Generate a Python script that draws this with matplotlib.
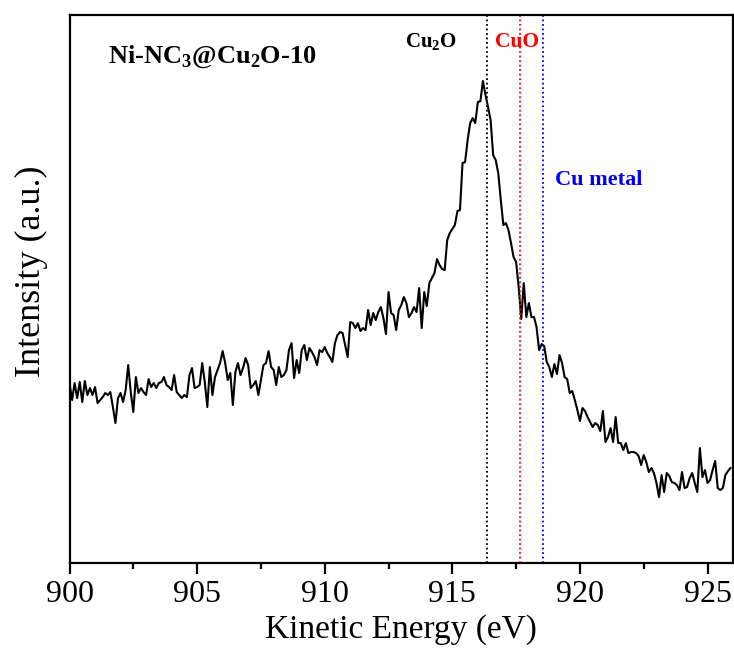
import numpy as np
import matplotlib
matplotlib.use("Agg")
import matplotlib.pyplot as plt
from matplotlib.ticker import MultipleLocator

plt.rcParams["font.family"] = ["Liberation Serif", "DejaVu Serif"]
plt.rcParams["mathtext.fontset"] = "custom"
plt.rcParams["mathtext.rm"] = "Liberation Serif"
plt.rcParams["mathtext.bf"] = "Liberation Serif:bold"

# Cu LMM Auger spectrum (arbitrary units, 0.1 eV step)
E_START = 900.0
E_STEP = 0.1
intensity = [
    180, 163, 180, 165, 181, 161, 182, 168, 175, 168, 176, 160, 163, 166, 170,
    168, 171, 156, 140, 165, 170, 161, 173, 198, 171, 151, 186, 170, 175, 171,
    168, 184, 176, 180, 175, 180, 181, 186, 178, 176, 173, 188, 171,
    168, 165, 168, 166, 188, 195, 175, 176, 178, 200, 181, 156, 196, 168, 186,
    193, 200, 212, 200, 183, 190, 158, 191, 200, 188, 195, 205, 198, 175, 178,
    182, 168, 183, 198, 200, 212, 196, 193, 178, 196, 186, 188,
    193, 213, 220, 185, 203, 190, 213, 218, 203, 215, 211, 206, 198, 213, 211,
    216, 210, 206, 201, 220, 228, 231, 230, 218, 206, 241, 240, 235, 240, 232,
    235, 233, 253, 238, 250, 243, 251, 256, 245, 229, 271, 250, 248, 233, 253,
    258, 266, 260, 246, 250, 256, 251, 275, 235, 271, 257, 280, 285, 290, 304,
    298, 294, 293, 323, 330, 334, 338, 352, 353, 400, 401, 423, 440, 445, 440,
    461, 462, 482, 468, 456, 443, 408, 403, 390, 363, 338, 340,
    333, 320, 306, 301, 276, 244, 280, 246, 260, 246, 246, 236, 213, 219, 217,
    201, 196, 186, 199, 189, 208, 200, 186, 184, 170, 172, 163, 153, 142, 155,
    152, 146, 141, 136, 140, 138, 132, 152, 121, 126, 135, 121, 146, 120,
    120, 113, 120, 110, 111, 111, 110, 107, 98, 108, 101, 91, 95, 90, 80,
    66, 88, 71, 90, 87, 81, 80, 78, 73, 91, 75, 76, 85, 90, 80,
    71, 115, 86, 93, 80, 83, 93, 102, 75, 73, 75, 88, 92, 95,
]
energy = E_START + E_STEP * np.arange(len(intensity))

# reference positions (eV)
ref_names = ["Cu$_\\mathbf{2}$O", "CuO", "Cu metal"]
ref_energy = [916.35, 917.65, 918.55]
ref_colors = ["black", "red", "blue"]

fig = plt.figure(figsize=(7.34, 6.5), dpi=100)
ax = fig.add_axes([0.0947, 0.1338, 0.904, 0.843])

ax.plot(energy, intensity, color="black", lw=1.5)
for e, c in zip(ref_energy, ref_colors):
    ax.axvline(e, color=c, ls=(0, (1, 1.5)), lw=1.3)

ax.set_xlim(900, 926)
ax.set_ylim(0, 548)
ax.xaxis.set_major_locator(MultipleLocator(5))
ax.xaxis.set_minor_locator(MultipleLocator(2.5))
ax.set_yticks([])
ax.tick_params(axis="x", which="major", direction="out", length=8, width=1.6,
               labelsize=23, pad=4)
ax.tick_params(axis="x", which="minor", direction="out", length=4.5, width=1.6)
for s in ax.spines.values():
    s.set_linewidth(1.6)

ax.set_xlabel("Kinetic Energy (eV)", fontsize=24, labelpad=4)
ax.set_ylabel("Intensity (a.u.)", fontsize=26)
ax.yaxis.set_label_coords(-0.033, 0.533)

ax.text(0.058, 0.923, "Ni-NC$_\\mathbf{3}$@Cu$_\\mathbf{2}$O-10",
        transform=ax.transAxes, fontsize=19, fontweight="bold", va="center")
ax.text(0.506, 0.951, ref_names[0], transform=ax.transAxes, fontsize=15,
        fontweight="bold", color=ref_colors[0], va="center")
ax.text(0.641, 0.951, ref_names[1], transform=ax.transAxes, fontsize=15.5,
        fontweight="bold", color=ref_colors[1], va="center")
ax.text(0.732, 0.699, ref_names[2], transform=ax.transAxes, fontsize=16,
        fontweight="bold", color=ref_colors[2], va="center")

fig.savefig("out.png", dpi=100)
